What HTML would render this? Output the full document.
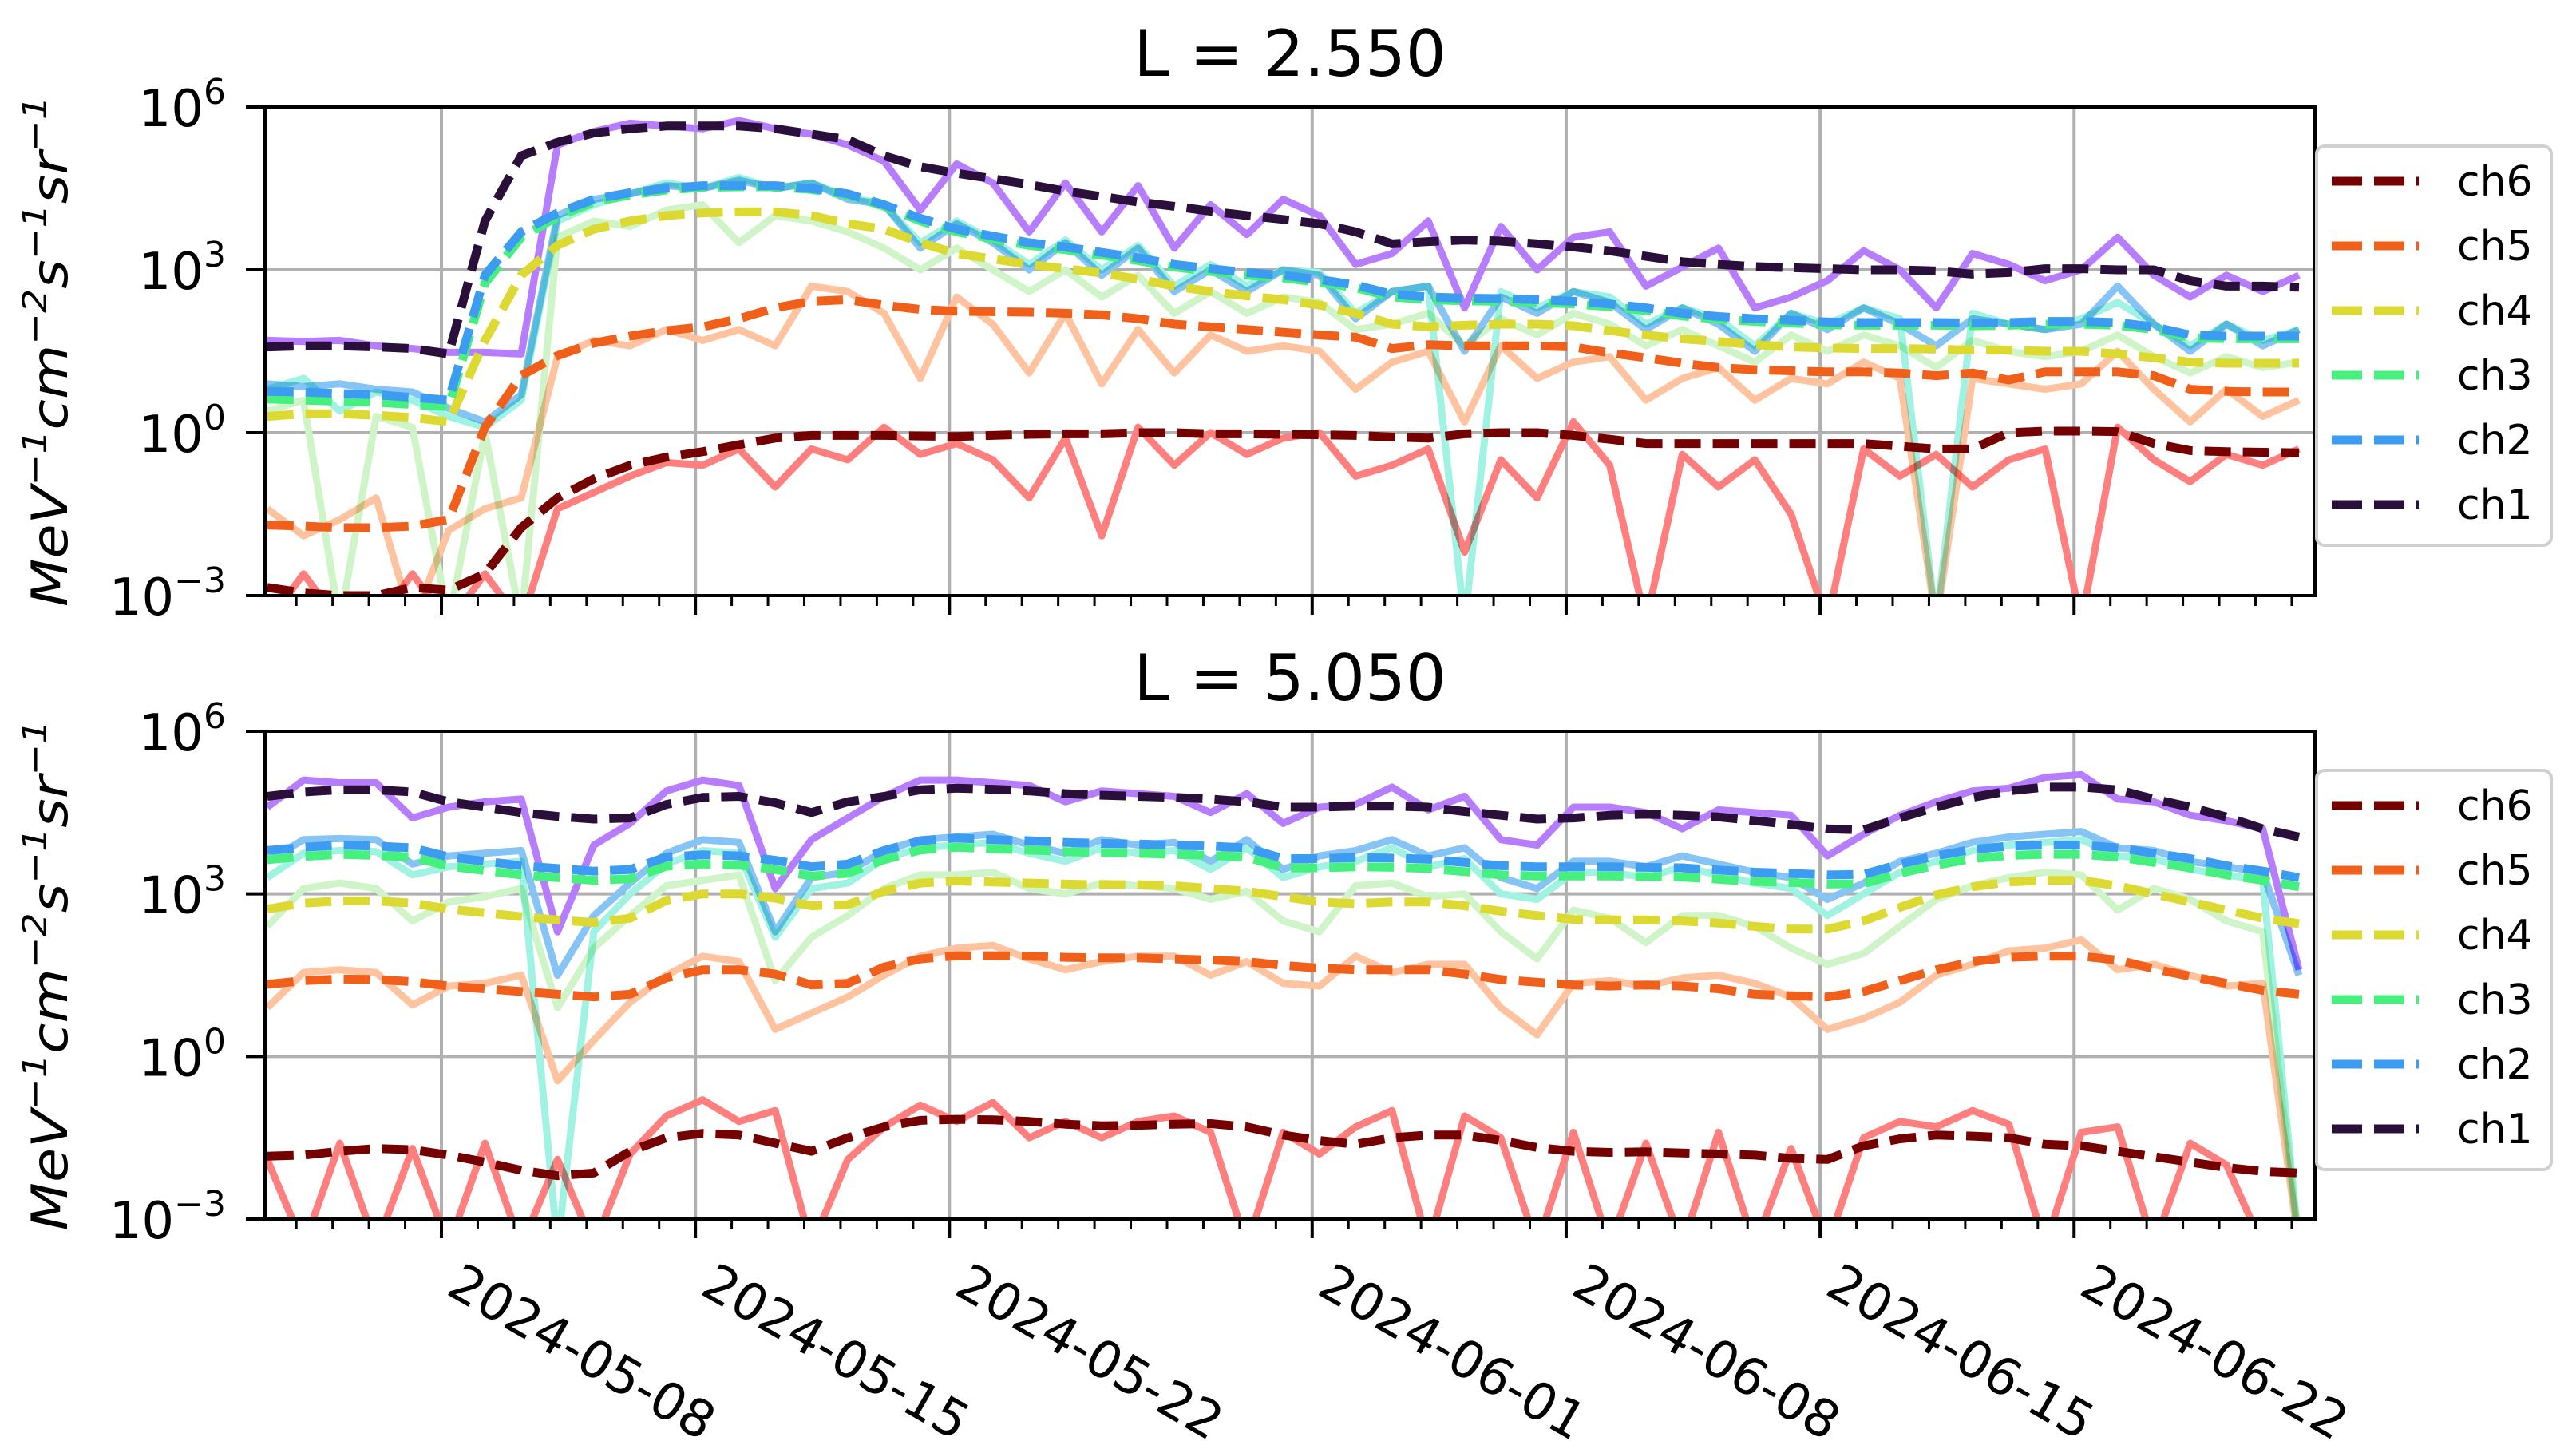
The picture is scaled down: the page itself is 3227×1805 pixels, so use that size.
<!DOCTYPE html>
<html><head><meta charset="utf-8">
<style>
html,body{margin:0;padding:0;background:#fff;}
svg{display:block;font-family:"DejaVu Sans","Liberation Sans",sans-serif;}
.sol{mix-blend-mode:multiply;}
</style></head>
<body>
<svg id="chart" width="3227" height="1805" viewBox="0 0 3227 1805" xmlns="http://www.w3.org/2000/svg">
<defs>
<clipPath id="clip0"><rect x="332" y="134" width="2568" height="612"/></clipPath>
<clipPath id="clip1"><rect x="332" y="916" width="2568" height="611"/></clipPath>
</defs>
<rect x="0" y="0" width="3227" height="1805" fill="#fff"/>
<text x="1616" y="95" font-size="80" text-anchor="middle">L = 2.550</text>
<text x="1616" y="877" font-size="80" text-anchor="middle">L = 5.050</text>
<g id="layer"></g>
</svg>
<script>
// days since 2024-05-08
const days=[-4.8,-3.8,-2.8,-1.8,-0.8,0.2,1.2,2.2,3.2,4.2,5.2,6.2,7.2,8.2,9.2,10.2,11.2,12.2,13.2,14.2,15.2,16.2,17.2,18.2,19.2,20.2,21.2,22.2,23.2,24.2,25.2,26.2,27.2,28.2,29.2,30.2,31.2,32.2,33.2,34.2,35.2,36.2,37.2,38.2,39.2,40.2,41.2,42.2,43.2,44.2,45.2,46.2,47.2,48.2,49.2,50.2,51.2];
const channels=["ch6","ch5","ch4","ch3","ch2","ch1"];
const majorTickDays=[0,7,14,24,31,38,45];
const majorTickLabels=["2024-05-08","2024-05-15","2024-05-22","2024-06-01","2024-06-08","2024-06-15","2024-06-22"];
const yTickExps=[6,3,0,-3];
// Top panel (L=2.550), log10 values
const T1d=[1.58,1.6,1.6,1.58,1.55,1.45,3.9,5.1,5.35,5.52,5.6,5.65,5.65,5.65,5.6,5.5,5.4,5.1,4.9,4.78,4.68,4.57,4.45,4.35,4.25,4.17,4.08,4.0,3.93,3.85,3.7,3.48,3.52,3.55,3.53,3.48,3.42,3.35,3.25,3.15,3.1,3.06,3.04,3.02,3.0,3.0,2.98,2.92,2.95,3.02,3.02,3.0,3.0,2.8,2.7,2.7,2.68];
const T1s=[1.7,1.68,1.7,1.6,1.55,1.48,1.48,1.45,5.3,5.55,5.7,5.65,5.6,5.75,5.6,5.5,5.3,5.0,4.1,4.95,4.6,3.7,4.6,3.7,4.55,3.4,4.2,3.65,4.3,4.0,3.1,3.3,3.9,2.3,3.8,3.0,3.6,3.7,2.7,3.05,3.4,2.3,2.5,2.8,3.35,3.0,2.3,3.3,3.1,2.8,3.0,3.6,2.9,2.5,2.9,2.6,2.9];
const T2d=[0.76,0.75,0.72,0.7,0.65,0.6,2.9,3.7,4.05,4.3,4.42,4.5,4.55,4.55,4.55,4.5,4.4,4.2,3.95,3.75,3.62,3.5,3.42,3.32,3.22,3.1,3.02,2.95,2.9,2.82,2.72,2.55,2.5,2.48,2.47,2.45,2.42,2.37,2.3,2.2,2.14,2.1,2.07,2.04,2.03,2.03,2.03,2.02,2.03,2.05,2.05,2.03,1.95,1.8,1.78,1.78,1.78];
const T2s=[0.9,0.85,0.9,0.8,0.75,0.45,0.2,0.7,4.0,4.3,4.4,4.55,4.5,4.65,4.5,4.6,4.3,4.2,3.4,3.85,3.5,3.0,3.5,2.9,3.4,2.6,3.0,2.6,3.0,2.9,2.1,2.6,2.7,1.5,2.5,2.2,2.6,2.4,1.9,2.3,2.0,1.5,2.2,1.9,2.3,2.0,1.6,2.1,2.0,1.9,2.0,2.7,2.0,1.5,2.0,1.6,1.9];
const T3d=[0.62,0.6,0.58,0.56,0.52,0.48,2.75,3.6,3.98,4.25,4.38,4.47,4.52,4.53,4.53,4.48,4.38,4.17,3.9,3.7,3.57,3.45,3.37,3.27,3.17,3.05,2.97,2.9,2.85,2.77,2.67,2.5,2.45,2.43,2.42,2.4,2.37,2.32,2.25,2.15,2.09,2.05,2.02,1.99,1.98,1.98,1.98,1.97,1.98,2.0,2.0,1.98,1.9,1.75,1.73,1.73,1.73];
const T3s=[0.8,1.0,0.4,0.75,0.6,0.3,0.1,0.6,3.9,4.2,4.4,4.6,4.5,4.7,4.5,4.6,4.35,4.2,3.5,3.9,3.55,3.1,3.55,3.0,3.45,2.7,3.1,2.7,3.0,2.95,2.2,2.6,2.7,-3.5,2.6,2.3,2.6,2.5,2.0,2.3,2.1,1.6,2.2,2.0,2.3,2.1,-3.5,2.2,2.0,1.9,2.1,2.4,2.0,1.6,2.0,1.7,1.9];
const T4d=[0.3,0.35,0.35,0.32,0.28,0.2,1.7,2.9,3.45,3.75,3.9,4.0,4.05,4.07,4.07,4.0,3.85,3.75,3.5,3.3,3.2,3.1,3.02,2.94,2.83,2.7,2.6,2.52,2.45,2.35,2.2,2.0,1.95,1.98,2.0,2.0,1.97,1.88,1.8,1.73,1.68,1.62,1.58,1.56,1.55,1.55,1.54,1.52,1.52,1.5,1.5,1.45,1.38,1.3,1.28,1.28,1.28];
const T4s=[0.4,0.6,-3.5,0.3,0.1,-3.5,0.0,-3.5,3.6,3.9,3.8,4.1,4.2,3.5,4.0,3.9,3.7,3.4,3.0,3.4,3.0,2.6,3.0,2.5,2.9,2.2,2.6,2.2,2.5,2.4,1.9,2.0,2.2,1.6,2.1,1.8,2.2,2.0,1.6,1.9,1.6,1.3,1.8,1.5,1.8,1.6,1.2,1.7,1.5,1.4,1.5,1.8,1.4,1.1,1.4,1.2,1.3];
const T5d=[-1.7,-1.72,-1.75,-1.75,-1.72,-1.6,0.1,1.05,1.42,1.65,1.78,1.88,1.95,2.1,2.3,2.42,2.45,2.35,2.27,2.24,2.23,2.22,2.2,2.17,2.1,2.0,1.95,1.9,1.85,1.8,1.76,1.55,1.62,1.6,1.6,1.6,1.58,1.47,1.38,1.28,1.2,1.16,1.14,1.12,1.12,1.1,1.05,1.1,0.97,1.12,1.12,1.12,1.05,0.8,0.76,0.75,0.75];
const T5s=[-1.4,-1.9,-1.6,-1.2,-3.5,-1.8,-1.4,-1.2,1.4,1.7,1.6,1.9,1.7,1.9,1.6,2.7,2.6,2.2,1.0,2.5,2.0,1.1,2.2,0.9,1.9,1.1,1.8,1.5,1.6,1.5,0.8,1.3,1.5,0.2,1.6,1.0,1.3,1.4,0.6,1.0,1.2,0.6,1.0,0.9,1.3,1.0,-3.5,1.0,0.9,0.8,0.9,1.5,0.8,0.2,0.8,0.3,0.6];
const T6d=[-2.85,-2.95,-3.0,-3.0,-2.85,-2.9,-2.6,-1.75,-1.2,-0.85,-0.6,-0.45,-0.35,-0.22,-0.1,-0.05,-0.05,-0.05,-0.06,-0.07,-0.05,-0.03,-0.02,-0.02,0.0,0.0,-0.02,-0.02,-0.03,-0.04,-0.05,-0.08,-0.1,-0.02,0.0,0.0,-0.05,-0.12,-0.2,-0.2,-0.2,-0.2,-0.2,-0.2,-0.2,-0.25,-0.3,-0.3,0.0,0.03,0.03,0.02,-0.2,-0.33,-0.35,-0.36,-0.37];
const T6s=[-3.5,-2.6,-3.5,-3.5,-2.6,-3.5,-2.6,-3.5,-1.4,-1.1,-0.8,-0.55,-0.6,-0.3,-1.0,-0.3,-0.5,0.1,-0.4,-0.2,-0.5,-1.2,-0.1,-1.9,0.1,-0.6,0.0,-0.4,-0.1,0.0,-0.8,-0.6,-0.3,-2.2,-0.5,-1.2,0.2,-0.6,-3.5,-0.4,-1.0,-0.5,-1.5,-3.5,-0.3,-0.8,-0.4,-1.0,-0.5,-0.3,-3.5,0.1,-0.5,-0.9,-0.4,-0.6,-0.3];
// Bottom panel (L=5.050)
const B1d=[4.8,4.88,4.92,4.92,4.88,4.7,4.6,4.5,4.43,4.38,4.4,4.65,4.78,4.8,4.68,4.5,4.7,4.8,4.92,4.95,4.93,4.9,4.85,4.82,4.8,4.78,4.75,4.7,4.6,4.6,4.62,4.62,4.6,4.52,4.45,4.38,4.4,4.45,4.47,4.45,4.42,4.35,4.28,4.2,4.18,4.4,4.6,4.78,4.9,4.97,4.97,4.92,4.75,4.6,4.42,4.2,4.05];
const B1s=[4.6,5.1,5.05,5.05,4.4,4.6,4.7,4.75,2.3,3.9,4.3,4.9,5.1,5.0,3.1,4.0,4.4,4.8,5.1,5.1,5.05,5.0,4.7,4.9,4.85,4.8,4.5,4.85,4.3,4.6,4.65,4.97,4.55,4.8,4.0,3.9,4.6,4.6,4.5,4.2,4.55,4.5,4.45,3.7,4.1,4.45,4.7,4.9,4.95,5.15,5.2,4.75,4.7,4.45,4.35,4.2,1.6];
const B2d=[3.8,3.86,3.9,3.88,3.85,3.68,3.6,3.52,3.47,3.42,3.45,3.68,3.72,3.7,3.62,3.5,3.55,3.8,3.98,4.03,4.0,3.98,3.95,3.93,3.92,3.9,3.88,3.85,3.65,3.65,3.67,3.66,3.64,3.58,3.52,3.5,3.5,3.5,3.49,3.48,3.44,3.4,3.38,3.35,3.36,3.55,3.7,3.82,3.88,3.9,3.9,3.85,3.75,3.65,3.52,3.42,3.3];
const B2s=[3.6,4.0,4.02,4.0,3.55,3.7,3.75,3.8,1.5,2.6,3.2,3.75,4.0,3.95,2.3,3.3,3.4,3.8,4.0,4.05,4.1,3.9,3.75,4.0,3.9,3.95,3.6,4.0,3.45,3.7,3.8,4.0,3.7,3.85,3.3,3.1,3.6,3.6,3.5,3.7,3.55,3.4,3.3,2.9,3.2,3.6,3.75,3.95,4.05,4.1,4.15,3.85,3.8,3.6,3.5,3.4,1.5];
const B3d=[3.63,3.69,3.73,3.71,3.68,3.51,3.43,3.35,3.3,3.25,3.28,3.51,3.55,3.53,3.45,3.33,3.38,3.63,3.81,3.86,3.83,3.81,3.78,3.76,3.75,3.73,3.71,3.68,3.48,3.48,3.5,3.49,3.47,3.41,3.35,3.33,3.33,3.33,3.32,3.31,3.27,3.23,3.21,3.18,3.19,3.38,3.53,3.65,3.71,3.73,3.73,3.68,3.58,3.48,3.35,3.25,3.13];
const B3s=[3.3,3.75,3.8,3.78,3.35,3.5,3.55,3.6,-3.5,2.3,3.0,3.55,3.8,3.75,2.2,3.1,3.2,3.65,3.85,3.9,3.95,3.75,3.6,3.85,3.75,3.8,3.45,3.85,3.3,3.5,3.6,3.85,3.5,3.65,3.0,2.9,3.4,3.4,3.3,3.5,3.35,3.2,3.1,2.6,3.0,3.4,3.6,3.8,3.9,3.95,4.0,3.7,3.65,3.45,3.35,3.25,-3.5];
const B4d=[2.72,2.83,2.87,2.87,2.83,2.72,2.65,2.58,2.52,2.47,2.55,2.88,3.0,3.0,2.92,2.78,2.8,3.05,3.2,3.24,3.22,3.2,3.18,3.17,3.17,3.15,3.1,3.05,2.95,2.85,2.82,2.85,2.85,2.78,2.68,2.6,2.53,2.52,2.52,2.5,2.46,2.4,2.35,2.35,2.5,2.75,2.98,3.13,3.22,3.25,3.25,3.15,3.0,2.85,2.7,2.55,2.45];
const B4s=[2.4,3.1,3.2,3.1,2.5,2.85,2.95,3.1,0.9,2.0,2.6,3.15,3.25,3.35,1.4,2.2,2.6,3.1,3.35,3.35,3.4,3.1,3.0,3.2,3.15,3.1,2.9,3.05,2.5,2.3,3.15,3.2,2.95,3.0,2.3,1.8,2.7,2.55,2.1,2.6,2.6,2.4,2.0,1.7,1.9,2.4,2.9,3.15,3.3,3.4,3.35,2.7,3.1,2.9,2.5,2.3,-3.5];
const B5d=[1.33,1.4,1.43,1.42,1.38,1.3,1.25,1.2,1.15,1.1,1.15,1.45,1.6,1.6,1.52,1.32,1.35,1.65,1.8,1.86,1.86,1.85,1.83,1.82,1.82,1.8,1.78,1.75,1.68,1.63,1.6,1.6,1.6,1.52,1.42,1.37,1.32,1.3,1.32,1.3,1.25,1.15,1.12,1.1,1.2,1.4,1.6,1.75,1.83,1.85,1.85,1.78,1.62,1.48,1.35,1.22,1.15];
const B5s=[0.9,1.55,1.6,1.55,0.95,1.3,1.35,1.5,-0.45,0.3,1.0,1.5,1.85,1.75,0.5,0.8,1.1,1.5,1.85,2.0,2.05,1.8,1.6,1.75,1.85,1.85,1.5,1.75,1.35,1.3,1.85,1.55,1.7,1.7,0.9,0.4,1.35,1.4,1.3,1.45,1.5,1.35,1.1,0.5,0.7,1.0,1.5,1.7,1.95,2.0,2.15,1.6,1.7,1.5,1.3,1.35,-3.5];
const B6d=[-1.84,-1.82,-1.75,-1.7,-1.72,-1.82,-1.95,-2.1,-2.2,-2.15,-1.75,-1.5,-1.42,-1.45,-1.6,-1.75,-1.5,-1.3,-1.18,-1.16,-1.17,-1.2,-1.25,-1.28,-1.27,-1.25,-1.24,-1.3,-1.45,-1.55,-1.62,-1.5,-1.45,-1.45,-1.55,-1.68,-1.75,-1.77,-1.76,-1.78,-1.8,-1.82,-1.88,-1.9,-1.65,-1.52,-1.45,-1.47,-1.5,-1.62,-1.65,-1.75,-1.85,-1.95,-2.05,-2.12,-2.15];
const B6s=[-1.9,-3.5,-1.6,-3.5,-1.7,-3.5,-1.6,-3.5,-1.9,-3.5,-1.8,-1.1,-0.8,-1.2,-1.0,-3.5,-1.9,-1.3,-0.9,-1.2,-0.85,-1.5,-1.2,-1.5,-1.2,-1.1,-1.4,-3.5,-1.4,-1.8,-1.3,-1.0,-3.5,-1.1,-1.5,-3.5,-1.4,-3.5,-1.6,-3.5,-1.4,-3.5,-1.7,-3.5,-1.5,-1.2,-1.3,-1.0,-1.25,-3.5,-1.4,-1.3,-3.5,-1.6,-2.0,-3.5,-3.5];

const NS="http://www.w3.org/2000/svg";
const layer=document.getElementById('layer');
const X0=332,X1=2900,D0=553,PXD=45.45;
const panels=[{top:134,bot:746,clip:'clip0',name:'top'},{top:916,bot:1527,clip:'clip1',name:'bottom'}];
function xS(d){return D0+d*PXD;}
function yS(v,p){const P=panels[p];return P.top+(6-v)*(P.bot-P.top)/9;}
function mk(tag,attrs,parent){const e=document.createElementNS(NS,tag);for(const k in attrs)e.setAttribute(k,attrs[k]);(parent||layer).appendChild(e);return e;}

const dashColors={ch1:"#2b0f3b",ch2:"#3b9cf2",ch3:"#45f07e",ch4:"#dcd932",ch5:"#f0601a",ch6:"#750000"};
const solidColors={ch1:"#b77dff",ch2:"#86c4f6",ch3:"#a0f3e2",ch4:"#cff4c8",ch5:"#ffc3a0",ch6:"#ff7e7e"};
const series=[
 {d:{ch1:T1d,ch2:T2d,ch3:T3d,ch4:T4d,ch5:T5d,ch6:T6d},s:{ch1:T1s,ch2:T2s,ch3:T3s,ch4:T4s,ch5:T5s,ch6:T6s}},
 {d:{ch1:B1d,ch2:B2d,ch3:B3d,ch4:B4d,ch5:B5d,ch6:B6d},s:{ch1:B1s,ch2:B2s,ch3:B3s,ch4:B4s,ch5:B5s,ch6:B6s}}
];

panels.forEach((P,p)=>{
  const g=mk('g',{});
  
  
  majorTickDays.forEach(d=>{
    const l=mk('line',{x1:xS(d),x2:xS(d),y1:P.top,y2:P.bot,stroke:'#b0b0b0','stroke-width':4},g);
    
    
  });
  yTickExps.forEach(e=>{
    const l=mk('line',{x1:X0,x2:X1,y1:yS(e,p),y2:yS(e,p),stroke:'#b0b0b0','stroke-width':4},g);
    
    
  });
  const sg=mk('g',{'clip-path':'url(#'+P.clip+')'},g);
  
  
  channels.forEach(ch=>{
    const vals=series[p].s[ch];
    const pts=days.map((d,i)=>xS(d).toFixed(1)+','+yS(vals[i],p).toFixed(1)).join(' ');
    const pl=mk('polyline',{points:pts,fill:'none',stroke:solidColors[ch],'stroke-width':9,'stroke-linejoin':'round',class:'sol'},sg);
    
    
  });
  channels.forEach(ch=>{
    const vals=series[p].d[ch];
    const pts=days.map((d,i)=>xS(d).toFixed(1)+','+yS(vals[i],p).toFixed(1)).join(' ');
    const pl=mk('polyline',{points:pts,fill:'none',stroke:dashColors[ch],'stroke-width':11,'stroke-dasharray':'33 15','stroke-linejoin':'round'},sg);
    
    
  });
  const fr=mk('rect',{x:X0,y:P.top,width:X1-X0,height:P.bot-P.top,fill:'none',stroke:'#000','stroke-width':4},g);
  
  
  for(let d=-4;d<=51;d++){
    const major=majorTickDays.indexOf(d)>=0;
    const t=mk('line',{x1:xS(d),x2:xS(d),y1:P.bot,y2:P.bot+(major?24:13),stroke:'#000','stroke-width':major?4:3},g);
    
    
  }
  yTickExps.forEach(e=>{
    const y=yS(e,p);
    const t=mk('line',{x1:X0-24,x2:X0,y1:y,y2:y,stroke:'#000','stroke-width':4},g);
    
    
    const tx=mk('text',{x:283,y:y+24,'font-size':64,'text-anchor':'end'},g);
    
    
    const a=document.createElementNS(NS,'tspan');a.textContent='10';tx.appendChild(a);
    const b=document.createElementNS(NS,'tspan');b.setAttribute('dy','-28');b.setAttribute('font-size','44');b.textContent=(e<0?'\u2212'+(-e):String(e));tx.appendChild(b);
  });
  const yt=mk('text',{transform:'translate(84,'+((P.top+P.bot)/2)+') rotate(-90)','font-size':62,'font-style':'italic','text-anchor':'middle',textLength:640,lengthAdjust:'spacingAndGlyphs'},g);
  
  
  [['MeV',0,62],['\u22121',-26,42],['cm',26,62],['\u22122',-26,42],['s',26,62],['\u22121',-26,42],['sr',26,62],['\u22121',-26,42]].forEach(([s,dy,fs])=>{
    const ts=document.createElementNS(NS,'tspan');ts.setAttribute('dy',dy);ts.setAttribute('font-size',fs);ts.textContent=s;yt.appendChild(ts);
  });
  const lg=mk('g',{},g);
  
  
  const ly=P.top+49;
  mk('rect',{x:2902,y:ly,width:294,height:500,rx:10,fill:'#fff','fill-opacity':0.9,stroke:'#d0d0d0','stroke-width':4},lg);
  channels.forEach((ch,k)=>{
    const cy=ly+44+k*81;
    const e=mk('g',{},lg);
    
    
    mk('line',{x1:2921,x2:3030,y1:cy,y2:cy,stroke:dashColors[ch],'stroke-width':11,'stroke-dasharray':'38 15'},e);
    const tt=mk('text',{x:3078,y:cy+18,'font-size':52},e);
    tt.textContent=ch;
  });
});
majorTickDays.forEach((d,i)=>{
  const t=mk('text',{transform:'translate('+(xS(d)+28)+',1578) rotate(30)',x:0,y:48,'font-size':64});
  
  
  t.textContent=majorTickLabels[i];
});
</script>
</body></html>
